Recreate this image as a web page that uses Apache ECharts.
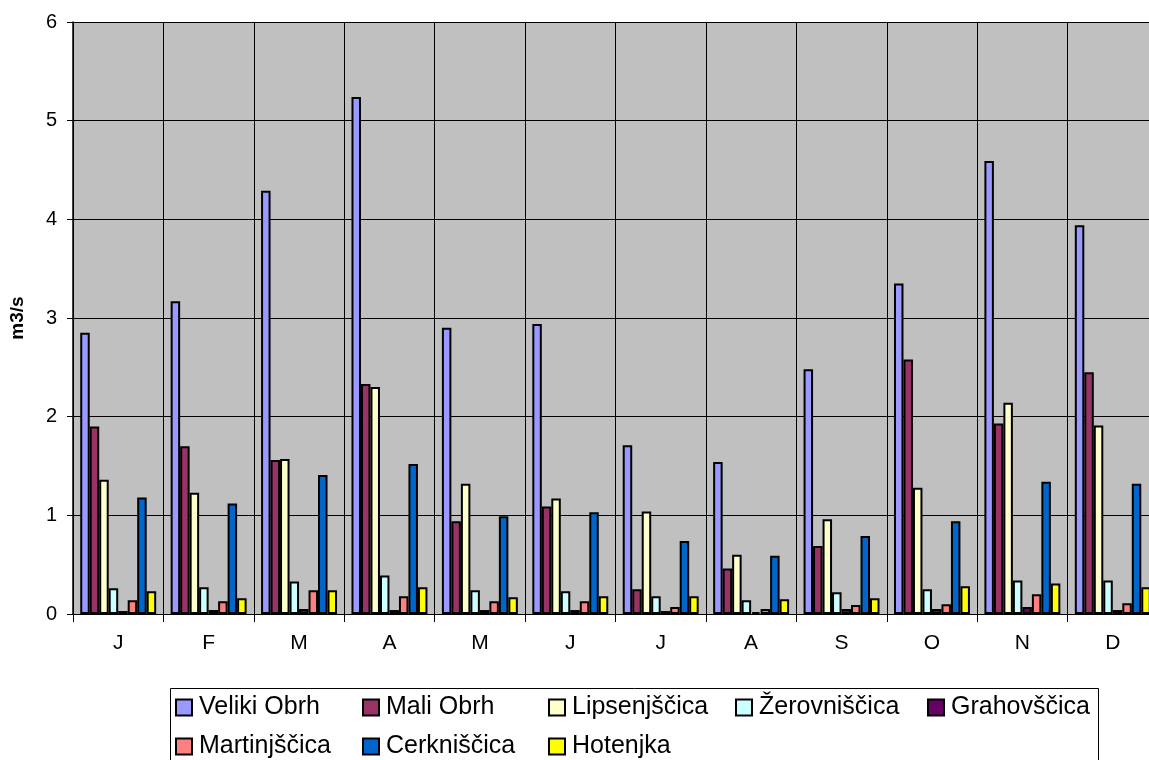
<!DOCTYPE html>
<html>
<head>
<meta charset="utf-8">
<script src="https://cdn.jsdelivr.net/npm/echarts@6/dist/echarts.min.js"></script>
<style>
  html, body { margin: 0; padding: 0; background: #fff; overflow: hidden; }
  #chart { width: 1158px; height: 760px; }
</style>
</head>
<body>
<div id="chart"></div>
<script>
// Monthly mean discharge of the streams, m3/s
const months = ['J', 'F', 'M', 'A', 'M', 'J', 'J', 'A', 'S', 'O', 'N', 'D'];
const yTicks = [0, 1, 2, 3, 4, 5, 6];

const velikiObrh   = [2.85, 3.17, 4.29, 5.24, 2.90, 2.94, 1.71, 1.54, 2.48, 3.35, 4.59, 3.94];
const maliObrh     = [1.90, 1.70, 1.56, 2.33, 0.94, 1.09, 0.25, 0.46, 0.69, 2.58, 1.93, 2.45];
const lipsenjscica = [1.36, 1.23, 1.57, 2.30, 1.32, 1.17, 1.04, 0.60, 0.96, 1.28, 2.14, 1.91];
const zerovniscica = [0.26, 0.27, 0.33, 0.39, 0.24, 0.23, 0.18, 0.14, 0.22, 0.25, 0.34, 0.34];
const grahovscica  = [0.03, 0.04, 0.05, 0.04, 0.04, 0.04, 0.03, 0.02, 0.05, 0.05, 0.07, 0.04];
const martinjscica = [0.14, 0.13, 0.24, 0.18, 0.13, 0.13, 0.07, 0.05, 0.09, 0.10, 0.20, 0.11];
const cerkniscica  = [1.18, 1.12, 1.41, 1.52, 0.99, 1.03, 0.74, 0.59, 0.79, 0.94, 1.34, 1.32];
const hotenjka     = [0.23, 0.16, 0.24, 0.27, 0.17, 0.18, 0.18, 0.15, 0.16, 0.28, 0.31, 0.27];

const seriesDefs = [
  { name: 'Veliki Obrh',   data: velikiObrh,   color: '#9999FF' },
  { name: 'Mali Obrh',     data: maliObrh,     color: '#993366' },
  { name: 'Lipsenjščica',  data: lipsenjscica, color: '#FFFFCC' },
  { name: 'Žerovniščica',  data: zerovniscica, color: '#CCFFFF' },
  { name: 'Grahovščica',   data: grahovscica,  color: '#660066' },
  { name: 'Martinjščica',  data: martinjscica, color: '#FF8080' },
  { name: 'Cerkniščica',   data: cerkniscica,  color: '#0066CC' },
  { name: 'Hotenjka',      data: hotenjka,     color: '#FFFF00' }
];

// legend slot positions (two rows, aligned columns)
const legendSlots = [
  [175, 695], [362, 695], [548, 695], [735, 695], [927, 695],
  [175, 734], [362, 734], [548, 734]
];

const FONT = 'Arial, "Liberation Sans", sans-serif';

const chart = echarts.init(document.getElementById('chart'), null, { renderer: 'canvas' });

const option = {
  animation: false,
  backgroundColor: '#ffffff',
  grid: {
    left: 71, top: 22, right: 0, bottom: 146,
    show: true,
    backgroundColor: '#C0C0C0',
    borderWidth: 0
  },
  xAxis: {
    type: 'category',
    data: months,
    axisLine: { show: true, lineStyle: { color: '#000', width: 1 } },
    axisTick: { show: true, alignWithLabel: false, length: 8, lineStyle: { color: '#000' } },
    axisLabel: { color: '#000', fontSize: 21, fontFamily: FONT, margin: 19 },
    splitLine: { show: true, lineStyle: { color: '#000', width: 1 } }
  },
  yAxis: {
    type: 'value',
    min: yTicks[0],
    max: yTicks[yTicks.length - 1],
    interval: 1,
    name: 'm3/s',
    nameLocation: 'middle',
    nameGap: 46,
    nameRotate: 90,
    nameTextStyle: { color: '#000', fontSize: 19, fontWeight: 'bold', fontFamily: FONT },
    axisLine: { show: true, lineStyle: { color: '#000', width: 1.5 } },
    axisTick: { show: true, length: 6, lineStyle: { color: '#000' } },
    axisLabel: { color: '#000', fontSize: 20, fontFamily: FONT, margin: 16 },
    splitLine: { show: true, lineStyle: { color: '#000', width: 1 } }
  },
  legend: seriesDefs.map((s, i) => ({
    data: [s.name],
    left: legendSlots[i][0],
    top: legendSlots[i][1],
    padding: 0,
    itemWidth: 16,
    itemHeight: 16,
    itemGap: 0,
    icon: 'rect',
    textStyle: { color: '#000', fontSize: 25, fontFamily: FONT, padding: [0, 0, 0, 2] },
    itemStyle: { borderColor: '#000', borderWidth: 2 }
  })),
  graphic: [{
    type: 'rect',
    left: 168, top: 686,
    shape: { width: 928, height: 90 },
    style: { fill: 'none', stroke: '#000', lineWidth: 1 },
    silent: true
  }],
  series: seriesDefs.map(s => ({
    type: 'bar',
    name: s.name,
    data: s.data,
    barGap: '0%',
    barCategoryGap: '16%',
    itemStyle: { color: s.color, borderColor: '#000', borderWidth: 2 }
  }))
};

chart.setOption(option);
</script>
</body>
</html>
